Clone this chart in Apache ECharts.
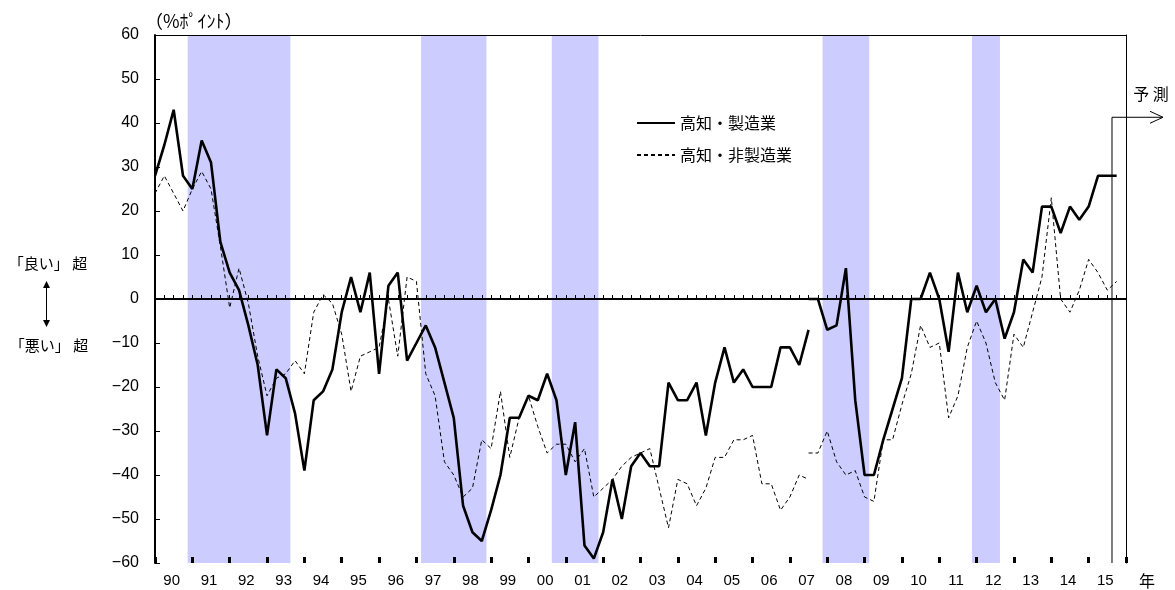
<!DOCTYPE html>
<html><head><meta charset="utf-8">
<script src="https://cdn.jsdelivr.net/npm/echarts@6/dist/echarts.min.js"></script>
<style>html,body{margin:0;padding:0;background:#fff}#c{width:1175px;height:590px}</style>
</head><body><div id="c"></div>
<script>
// ---- data ----
const firstYear = 1990;
const categoryCount = 105; // quarters 1990Q1 .. 2016Q1
const yearLabels = ['90','91','92','93','94','95','96','97','98','99','00','01','02','03','04','05','06','07','08','09','10','11','12','13','14','15'];
const quarters = [];
for (let i = 0; i < categoryCount; i++) quarters.push((firstYear + Math.floor(i / 4)) + 'Q' + (i % 4 + 1));

// recession periods (shaded)
const recessionRanges = [['1991Q1','1993Q3'],['1997Q2','1998Q4'],['2000Q4','2001Q4'],['2008Q1','2009Q1'],['2012Q1','2012Q3']];

// 高知・製造業 (old basis from 1990Q1, new basis from 2007Q3)
const mfgOldStart = '1990Q1';
const mfgOld = [28,35,43,28,25,36,31,13,6,2,
  -6,-15,-31,-16,-18,-26,-39,-23,-21,-16,
  -3,5,-3,6,-17,3,6,-14,-10,-6,
  -11,-19,-27,-47,-53,-55,-48,-40,-27,-27,
  -22,-23,-17,-23,-40,-28,-56,-59,-53,-41,
  -50,-38,-35,-38,-38,-19,-23,-23,-19,-31,
  -19,-11,-19,-16,-20,-20,-20,-11,-11,-15,
  -7];
const mfgNewStart = '2007Q3';
const mfgNew = [0,0,-7,-6,7,-23,-40,-40,-32,-25,
  -18,0,0,6,0,-12,6,-3,3,-3,
  0,-9,-3,9,6,21,21,15,21,18,
  21,28,28,28];

// 高知・非製造業
const nonOldStart = '1990Q1';
const nonOld = [24,28,24,20,25,29,25,12,-2,7,
  -1,-13,-22,-18,-17,-14,-17,-3,1,-1,
  -8,-21,-13,-12,-11,0,-13,5,4,-17,
  -22,-37,-40,-45,-43,-32,-34,-21,-36,-27,
  -22,-29,-35,-33,-33,-37,-34,-45,-43,-41,
  -38,-36,-35,-34,-43,-52,-41,-42,-47,-43,
  -36,-36,-32,-32,-31,-42,-42,-48,-45,-40,
  -41];
const nonNewStart = '2007Q3';
const nonNew = [-35,-35,-30,-37,-40,-39,-45,-46,-32,-32,
  -24,-17,-6,-11,-10,-27,-22,-11,-5,-10,
  -19,-23,-8,-11,-3,5,23,0,-3,2,
  9,6,2,4];

const forecastFrom = '2015Q4';
const yTicks = {min: -60, max: 60, interval: 10};

// ---- build ----
function pad(arr, startCat) {
  const start = quarters.indexOf(startCat);
  const out = new Array(quarters.length).fill(null);
  arr.forEach((v, i) => { out[start + i] = v; });
  return out;
}
const shadeData = recessionRanges.map(r => [quarters.indexOf(r[0]), quarters.indexOf(r[1]), 0]);

const NUM = '"Liberation Sans", "Noto Sans CJK JP", sans-serif';
const JP = '"Noto Sans CJK JP", sans-serif';
const NAME_M = '高知・製造業', NAME_N = '高知・非製造業';

const chart = echarts.init(document.getElementById('c'));
const solid = {color: '#000', width: 2.6};
const dashed = {color: '#000', width: 1, type: [4, 3]};

chart.setOption({
  animation: false,
  backgroundColor: '#fff',
  grid: {left: 155, right: 49, top: 35, bottom: 27, show: false},
  legend: {
    data: [NAME_M, NAME_N], orient: 'vertical', left: 631, top: 110,
    itemWidth: 38, itemHeight: 14, itemGap: 16,
    itemStyle: {opacity: 0},
    textStyle: {fontSize: 16, fontFamily: JP, color: '#000'}
  },
  xAxis: [
    {type: 'category', data: quarters, boundaryGap: false, position: 'bottom', z: 1,
      axisLine: {lineStyle: {color: '#000', width: 2}},
      axisTick: {show: true, interval: 0, inside: true, length: 4, lineStyle: {color: '#000', width: 1}},
      axisLabel: {interval: 0, margin: 10, fontSize: 15, fontFamily: NUM, color: '#000', padding: [0, 4, 0, 0],
        formatter: (v, i) => (i % 4 === 2 && yearLabels[i >> 2] !== undefined) ? yearLabels[i >> 2] : ''},
      splitLine: {show: false}},
    {type: 'category', data: quarters, boundaryGap: false, position: 'bottom', z: 1,
      axisLine: {show: false},
      axisTick: {show: true, interval: (i) => i % 4 === 0, inside: true, length: 6, lineStyle: {color: '#000', width: 3}},
      axisLabel: {show: false}, splitLine: {show: false}},
    {type: 'category', data: quarters, boundaryGap: false, position: 'top', z: 1,
      axisLine: {lineStyle: {color: '#000', width: 1}}, axisTick: {show: false}, axisLabel: {show: false}, splitLine: {show: false}}
  ],
  yAxis: [
    {type: 'value', min: yTicks.min, max: yTicks.max, interval: yTicks.interval, z: 1,
      axisLine: {show: true, lineStyle: {color: '#000', width: 2}},
      axisTick: {show: true, inside: true, length: 5, lineStyle: {color: '#000', width: 1}},
      axisLabel: {margin: 16, fontSize: 16, fontFamily: NUM, color: '#000',
        formatter: v => v < 0 ? '\u2212' + Math.abs(v) : String(v)},
      splitLine: {show: false}},
    {type: 'value', min: 0, max: 1, position: 'right', z: 1,
      axisLine: {show: true, lineStyle: {color: '#000', width: 1}},
      axisTick: {show: false}, axisLabel: {show: false}, splitLine: {show: false}}
  ],
  series: [
    {name: 'recession', type: 'custom', xAxisIndex: 0, yAxisIndex: 0, data: shadeData, silent: true, z: 0,
      encode: {x: [0, 1], y: 2},
      renderItem: (params, api) => {
        const w = api.size([1, 0])[0];
        const x1 = api.coord([api.value(0), 0])[0] - w / 2;
        const x2 = api.coord([api.value(1), 0])[0] + w / 2;
        const cs = params.coordSys;
        return {type: 'rect', shape: {x: x1, y: cs.y, width: x2 - x1, height: cs.height}, style: {fill: '#CCCCFF'}};
      }},
    {name: NAME_M, type: 'line', data: pad(mfgOld, mfgOldStart), symbol: 'none', lineStyle: solid, itemStyle: {color: '#000'}, z: 4,
      markLine: {silent: true, symbol: 'none', label: {show: false}, lineStyle: {color: '#000', width: 1, type: 'solid'}, data: [{yAxis: 0}]}},
    {name: NAME_M, type: 'line', data: pad(mfgNew, mfgNewStart), symbol: 'none', lineStyle: solid, itemStyle: {color: '#000'}, z: 4},
    {name: NAME_N, type: 'line', data: pad(nonOld, nonOldStart), symbol: 'none', lineStyle: dashed, itemStyle: {color: '#000'}, z: 3},
    {name: NAME_N, type: 'line', data: pad(nonNew, nonNewStart), symbol: 'none', lineStyle: dashed, itemStyle: {color: '#000'}, z: 3}
  ]
});

// annotations
const fi = quarters.indexOf(forecastFrom);
const xF = (chart.convertToPixel({xAxisIndex: 0}, quarters[fi - 1]) + chart.convertToPixel({xAxisIndex: 0}, quarters[fi])) / 2;
const yTop = chart.convertToPixel({yAxisIndex: 0}, 41.3);
const yBot = chart.convertToPixel({yAxisIndex: 0}, yTicks.min);
const st = {stroke: '#000', lineWidth: 1};
chart.setOption({
  graphic: [
    {type: 'line', shape: {x1: xF, y1: yTop, x2: xF, y2: yBot}, style: st, z: 10},
    {type: 'line', shape: {x1: xF, y1: yTop, x2: xF + 51, y2: yTop}, style: st, z: 10},
    {type: 'polyline', shape: {points: [[xF + 38, yTop - 6], [xF + 51, yTop], [xF + 38, yTop + 6]]}, style: {stroke: '#000', fill: null, lineWidth: 1}, z: 10},
    {type: 'text', x: 1151, y: 94, style: {text: '予 測', font: '16px ' + JP, fill: '#000', align: 'center', verticalAlign: 'middle'}},
    {type: 'text', x: 145, y: 21, style: {text: '（%ﾎﾟｲﾝﾄ）', font: '18px ' + JP, fill: '#000', align: 'left', verticalAlign: 'middle'}},
    {type: 'text', x: 1147, y: 581, style: {text: '年', font: '16px ' + JP, fill: '#000', align: 'center', verticalAlign: 'middle'}},
    {type: 'text', x: 48, y: 263, style: {text: '「良い」 超', font: '15px ' + JP, fill: '#000', align: 'center', verticalAlign: 'middle'}},
    {type: 'text', x: 49, y: 345, style: {text: '「悪い」 超', font: '15px ' + JP, fill: '#000', align: 'center', verticalAlign: 'middle'}},
    {type: 'line', shape: {x1: 46.5, y1: 287, x2: 46.5, y2: 321}, style: st},
    {type: 'polygon', shape: {points: [[43, 288], [46.5, 281], [50, 288]]}, style: {fill: '#000'}},
    {type: 'polygon', shape: {points: [[43, 320], [46.5, 327], [50, 320]]}, style: {fill: '#000'}}
  ]
});
</script>
</body></html>
